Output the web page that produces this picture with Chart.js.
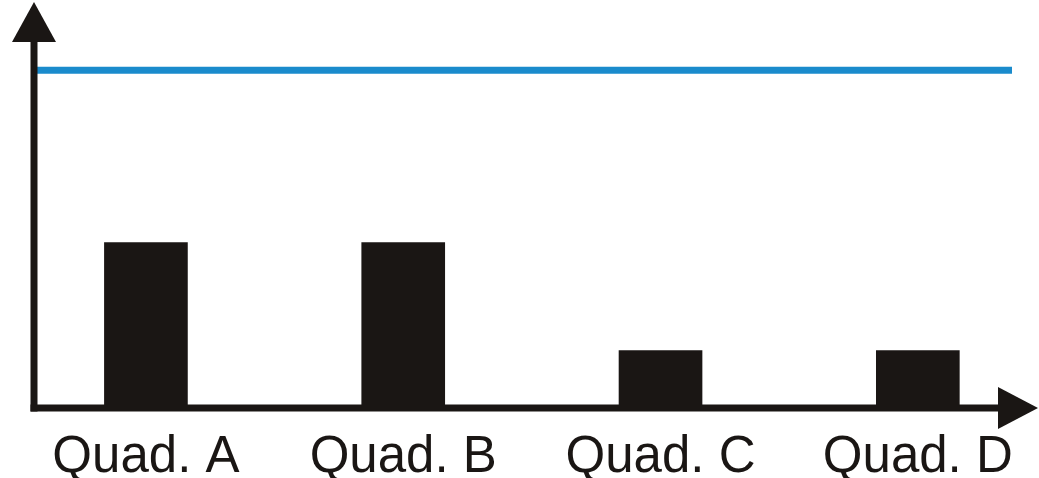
<!DOCTYPE html>
<html>
<head>
<meta charset="utf-8">
<script src="https://cdn.jsdelivr.net/npm/chart.js@4"></script>
<style>
  html, body { margin: 0; padding: 0; background: #ffffff; }
  #wrap { width: 1039px; height: 478px; }
</style>
</head>
<body>
<div id="wrap"><canvas id="quadChart"></canvas></div>
<script>
// chart data
const categories = ['Quad. A', 'Quad. B', 'Quad. C', 'Quad. D'];
const barValues = [49, 49, 17, 17];
const targetValue = 100;

// x range (in category units) so the axis starts a bit left of the first bar
const xMin = -0.435;
const xMax = 3.366;

const ink = '#1a1614';

// draws both axes with arrow heads
const arrowAxes = {
    id: 'arrowAxes',
    afterDatasetsDraw(chart) {
        const ctx = chart.ctx;
        const a = chart.chartArea;
        ctx.save();
        ctx.strokeStyle = ink;
        ctx.fillStyle = ink;
        ctx.lineWidth = 7;
        ctx.lineCap = 'butt';

        // y axis
        ctx.beginPath();
        ctx.moveTo(a.left, a.bottom + 3.5);
        ctx.lineTo(a.left, a.top);
        ctx.stroke();
        ctx.beginPath();
        ctx.moveTo(a.left - 22, a.top);
        ctx.lineTo(a.left + 22, a.top);
        ctx.lineTo(a.left, a.top - 40);
        ctx.closePath();
        ctx.fill();

        // x axis
        ctx.beginPath();
        ctx.moveTo(a.left - 3.5, a.bottom);
        ctx.lineTo(a.right - 14, a.bottom);
        ctx.stroke();
        ctx.beginPath();
        ctx.moveTo(a.right - 14, a.bottom - 21);
        ctx.lineTo(a.right - 14, a.bottom + 21);
        ctx.lineTo(a.right + 26, a.bottom);
        ctx.closePath();
        ctx.fill();
        ctx.restore();
    }
};

const ctx = document.getElementById('quadChart').getContext('2d');
const quadChart = new Chart(ctx, {
    type: 'bar',
    data: {
        datasets: [
            {
                type: 'line',
                data: [{ x: xMin, y: targetValue }, { x: xMax, y: targetValue }],
                borderColor: '#1a8bcc',
                borderWidth: 7,
                pointRadius: 0,
                order: 0
            },
            {
                type: 'bar',
                data: barValues.map((v, i) => ({ x: i, y: v })),
                backgroundColor: ink,
                borderWidth: 0,
                barThickness: 83,
                order: 1
            }
        ]
    },
    options: {
        responsive: true,
        maintainAspectRatio: false,
        animation: false,
        layout: { padding: { left: 34, right: 27, top: 42, bottom: -21 } },
        plugins: {
            legend: { display: false },
            tooltip: { enabled: false }
        },
        scales: {
            x: {
                type: 'linear',
                offset: false,
                min: xMin,
                max: xMax,
                grid: { display: false },
                border: { display: false },
                afterBuildTicks: (axis) => {
                    axis.ticks = categories.map((c, i) => ({ value: i }));
                },
                ticks: {
                    autoSkip: false,
                    maxRotation: 0,
                    padding: 16,
                    color: ink,
                    font: { family: '"Liberation Sans", Arial, sans-serif', size: 51, lineHeight: 1.0 },
                    callback: (v) => categories[v]
                }
            },
            y: {
                display: false,
                min: 0,
                max: 108.4
            }
        }
    },
    plugins: [arrowAxes]
});
</script>
</body>
</html>
